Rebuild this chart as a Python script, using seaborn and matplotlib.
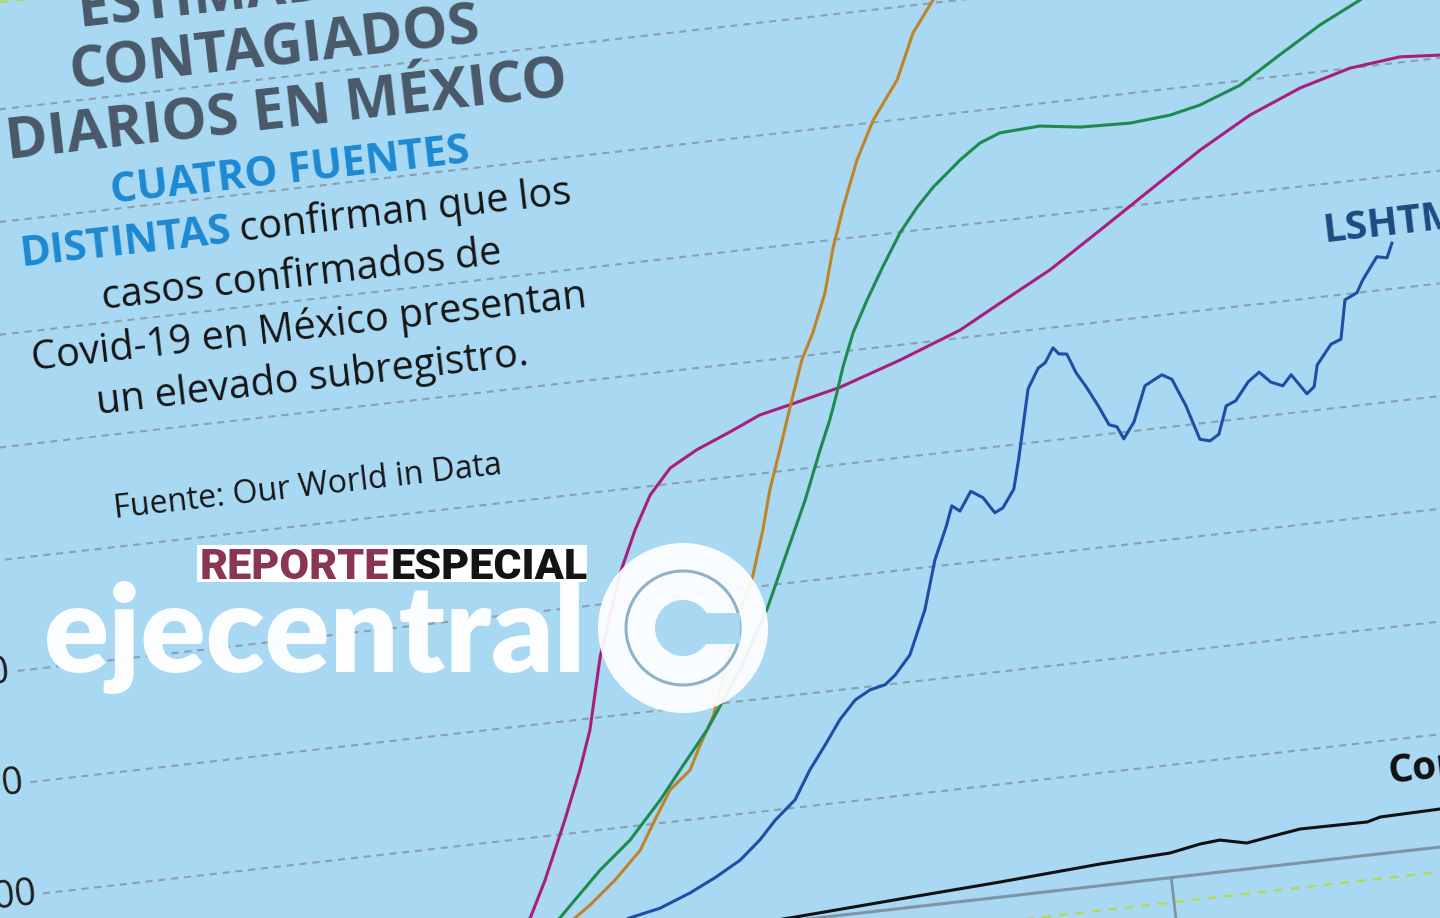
import matplotlib
matplotlib.use("Agg")
import matplotlib.pyplot as plt
import matplotlib.patches as mpatches
from matplotlib.transforms import Affine2D, IdentityTransform
import pandas as pd
import seaborn as sns

# ---- data: day index vs daily infections (thousands) ----
icl_days = [80, 86, 92, 98.3, 102.1, 107.4, 111.5, 114.4, 118.1, 124.0, 127.9, 131.7, 136.3, 142.0,
            149.0, 155.3, 161.5, 171.9, 184.4, 197.0, 205.6, 216.3, 227.1, 237.9, 248.8, 259.5,
            270.1, 280.4, 290.6, 298.6]
icl_vals = [0, 0.3, 1.5, 5.8, 12.2, 22.5, 31.0, 37.9, 50.7, 65.2, 72.5, 78.4, 82.8, 85.5,
            88.0, 90.4, 91.6, 93.7, 97.3, 101.4, 105.4, 110.3, 116.3, 122.4, 128.5, 133.7,
            137.5, 140.0, 141.0, 140.5]

ihme_days = [90, 97, 102, 107.2, 110.5, 116.0, 121.7, 125.3, 129.0, 133.4, 136.0, 139.2, 141.2,
             144.6, 146.2, 150.0, 153.3, 155.6, 158.5, 161.5, 164.9, 167.7, 171.0, 173.7, 176.6,
             180.4, 184.5, 190.2, 194.4, 199.1, 202.0]
ihme_vals = [0, 0.8, 2.3, 4.9, 6.9, 10.8, 15.6, 20.7, 25.7, 28.8, 33.1, 37.8, 42.4,
             50.5, 55.0, 61.3, 69.9, 76.9, 83.8, 91.2, 99.3, 103.9, 110.7, 118.7, 125.6,
             133.7, 140.4, 147.1, 155.1, 160.5, 165.0]

yyg_days = [88, 95, 100, 104.2, 107.6, 113.3, 119.9, 126.8, 131.4, 137.7, 145.6, 152.3, 155.7,
            162.4, 166.5, 169.1, 171.1, 172.9, 175.7, 179.2, 183.1, 187.3, 191.3, 194.9, 200.9,
            205.2, 209.4, 217.5, 225.5, 235.5, 243.6, 249.8, 258.2, 266.8, 275.5, 284.0, 290.0]
yyg_vals = [0, 1.0, 2.8, 5.2, 8.1, 12.9, 17.6, 24.1, 29.0, 35.6, 45.6, 55.7, 62.0,
            74.4, 83.0, 88.1, 92.7, 97.2, 103.1, 108.6, 114.2, 119.9, 124.1, 127.3, 131.6,
            134.2, 135.6, 136.0, 135.0, 134.7, 135.3, 136.5, 139.2, 143.8, 148.3, 151.9, 154.5]

lshtm_days = [100, 110, 118.1, 124.3, 130.6, 135.9, 141.3, 145.7, 149.2, 153.6,
              157.2, 160.8, 164.3, 167.8, 171.0, 174.1, 176.3, 179.7, 183.7, 186.8,
              189.8, 191.4, 192.9, 195.5, 197.8, 199.8, 201.5, 204.1, 205.8, 209.2,
              211.7, 213.2, 215.1, 216.1, 217.7, 219.1, 220.8, 222.6, 224.5, 226.0,
              227.1, 229.5, 232.5, 236.1, 238.0, 240.2, 242.2, 244.2, 246.1, 248.2,
              250.2, 253.1, 255.5, 257.6, 259.9, 261.8, 264.5, 266.1, 267.2, 270.4,
              272.5, 274.2, 276.7, 278.2, 281.5, 283.5, 284.8]
lshtm_vals = [0.5, 1.8, 3.8, 4.9, 7.0, 9.2, 11.8, 15.0, 18.2, 21.4,
              26.4, 30.5, 34.7, 37.9, 39.4, 40.0, 41.5, 44.8, 52.5, 61.1,
              66.8, 70.4, 69.3, 72.6, 71.2, 68.3, 69.0, 72.1, 77.5, 89.6,
              93.1, 93.9, 96.4, 95.2, 95.0, 91.5, 88.8, 85.5, 81.6, 81.1,
              78.8, 81.6, 87.8, 89.4, 88.4, 83.4, 77.2, 76.7, 77.7, 82.6,
              83.3, 86.4, 87.9, 85.9, 85.0, 86.8, 83.1, 84.2, 88.0, 91.4,
              92.1, 99.0, 100.0, 102.2, 106.0, 105.6, 108.1]

conf_days = [60, 100, 125, 140, 149.9, 172.2, 192.5, 212.7, 226.9, 233.1, 237.1, 242.4,
             247.8, 253.3, 266.8, 269.5, 281.6, 290]
conf_vals = [0, 0, 0.05, 0.25, 0.55, 1.69, 2.68, 3.85, 4.39, 5.38, 5.68, 4.61,
             5.33, 6.02, 5.91, 6.53, 6.74, 7.0]

y_ticks = [20, 40, 60, 80, 100, 120, 140, 160]
x_tick_day = 226.6

colores = {"ICL": "#a81f7a", "IHME": "#bf8428", "YYG": "#1d8a4e",
           "LSHTM": "#1f4ea6", "Confirmados": "#111111"}

BG = "#a8d8f2"
ANGLE = 6.5
W, H = 1440, 918

plt.rcParams['font.family'] = ['Open Sans', 'DejaVu Sans']

frames = []
for name, d, v in [("ICL", icl_days, icl_vals), ("IHME", ihme_days, ihme_vals),
                   ("YYG", yyg_days, yyg_vals), ("LSHTM", lshtm_days, lshtm_vals),
                   ("Confirmados", conf_days, conf_vals)]:
    frames.append(pd.DataFrame({"dia": d, "miles": v, "fuente": name}))
df = pd.concat(frames, ignore_index=True)

fig = plt.figure(figsize=(W / 100, H / 100), dpi=100, facecolor=BG)
# un-rotated plot frame in pixels: 5 px per day, 5.6 px per thousand
X_LO, X_HI, Y_LO, Y_HI = 2, 300, 0, 175
ax = fig.add_axes([(-12 + X_LO * 5) / W, -8 / H, (X_HI - X_LO) * 5 / W, (Y_HI - Y_LO) * 5.6 / H])
rot = Affine2D().rotate_deg_around(W / 2, H / 2, ANGLE)

sns.lineplot(data=df, x="dia", y="miles", hue="fuente", palette=colores, estimator=None,
             sort=False, linewidth=2.2, legend=False, ax=ax)
for ln in ax.get_lines():
    ln.set_transform(ax.transData + rot)
    ln.set_clip_on(False)
    ln.set_zorder(3)

ax.set_xlim(X_LO, X_HI)
ax.set_ylim(Y_LO, Y_HI)
ax.axis("off")

# gridlines, axis, frame lines
for t in y_ticks:
    g = ax.axhline(t, color="#8b9fae", lw=1.5, ls=(0, (3.4, 2.8)), zorder=1)
    g.set_transform(ax.get_yaxis_transform() + rot)
    g.set_clip_on(False)
    ax.text(0.6, t, f"{t * 1000:,}", ha="right", va="center", fontsize=27, color="#1e1e1e",
            rotation=ANGLE, rotation_mode="anchor", transform=ax.transData + rot, clip_on=False)

base = ax.axhline(0, color="#7d95a7", lw=2.2, zorder=2)
base.set_transform(ax.get_yaxis_transform() + rot)
base.set_clip_on(False)
tk, = ax.plot([x_tick_day, x_tick_day], [0, -9], color="#7d95a7", lw=2)
tk.set_transform(ax.transData + rot)
tk.set_clip_on(False)
for yy in [-4.4, 179]:
    fl = ax.axhline(yy, color="#b6d944", lw=1.6, ls=(0, (4, 3.5)), zorder=1)
    fl.set_transform(ax.get_yaxis_transform() + rot)
    fl.set_clip_on(False)

ax.text(271.5, 109.7, "LSHTM", ha="left", va="baseline", fontsize=29, fontweight="bold",
        color="#1d4a82", rotation=ANGLE, rotation_mode="anchor", transform=ax.transData + rot,
        clip_on=False)
ax.text(272.2, 12.4, "Confirmados", ha="left", va="baseline", fontsize=28, fontweight="bold",
        color="#111111", rotation=ANGLE, rotation_mode="anchor", transform=ax.transData + rot,
        clip_on=False)


def texto(u, v, s, **kw):
    fig.text(u / W, 1 - v / H, s, rotation=ANGLE, rotation_mode="anchor", ha="left",
             va="baseline", **kw)


TIT = dict(fontsize=41, fontweight="bold", color="#4a5968")
texto(80, 28, "ESTIMADO DE", **TIT)
texto(72, 89, "CONTAGIADOS", **TIT)
texto(8, 160, "DIARIOS EN MÉXICO", **TIT)
AZ = dict(fontsize=30, fontweight="bold", color="#1d89d3")
texto(112, 203, "CUATRO FUENTES", **AZ)
texto(21, 266, "DISTINTAS", **AZ)
CU = dict(fontsize=28.5, color="#151515")
texto(241, 241, "confirman que los", **CU)
texto(103, 309, "casos confirmados de", **CU)
texto(33, 370, "Covid-19 en México presentan", **CU)
texto(98, 414, "un elevado subregistro.", **CU)
texto(115, 518, "Fuente: Our World in Data", fontsize=23, color="#151515")

# ejecentral watermark (not rotated)
fig.add_artist(mpatches.Rectangle((197, H - 582), 390, 37, transform=IdentityTransform(),
                                  facecolor="white", edgecolor="none", zorder=10))
fig.text(200 / W, 1 - 579 / H, "REPORTE", fontsize=31, fontweight="black", color="#8a3553",
         family=["Roboto", "DejaVu Sans"], zorder=11)
fig.text(391 / W, 1 - 579 / H, "ESPECIAL", fontsize=31, fontweight="black", color="#141414",
         family=["Roboto", "DejaVu Sans"], zorder=11)
fig.text(44 / W, 1 - 672 / H, "ejecentral", fontsize=87, fontweight="heavy", color="white",
         family=["Lato", "DejaVu Sans"], alpha=0.96, zorder=10)
cx, cy = 683, H - 628
fig.add_artist(mpatches.Circle((cx, cy), 85, transform=IdentityTransform(), facecolor="white",
                               edgecolor="none", alpha=0.93, zorder=10))
fig.add_artist(mpatches.Circle((cx, cy), 57, transform=IdentityTransform(), facecolor="none",
                               edgecolor="#8fb2c6", lw=2.2, zorder=11))
fig.add_artist(mpatches.Circle((cx, cy), 28, transform=IdentityTransform(), facecolor=BG,
                               edgecolor="none", zorder=11))
fig.add_artist(mpatches.Rectangle((cx, cy - 16), 57, 31, transform=IdentityTransform(),
                                  facecolor=BG, edgecolor="none", zorder=11))

fig.savefig("out.png", dpi=100, facecolor=BG)
